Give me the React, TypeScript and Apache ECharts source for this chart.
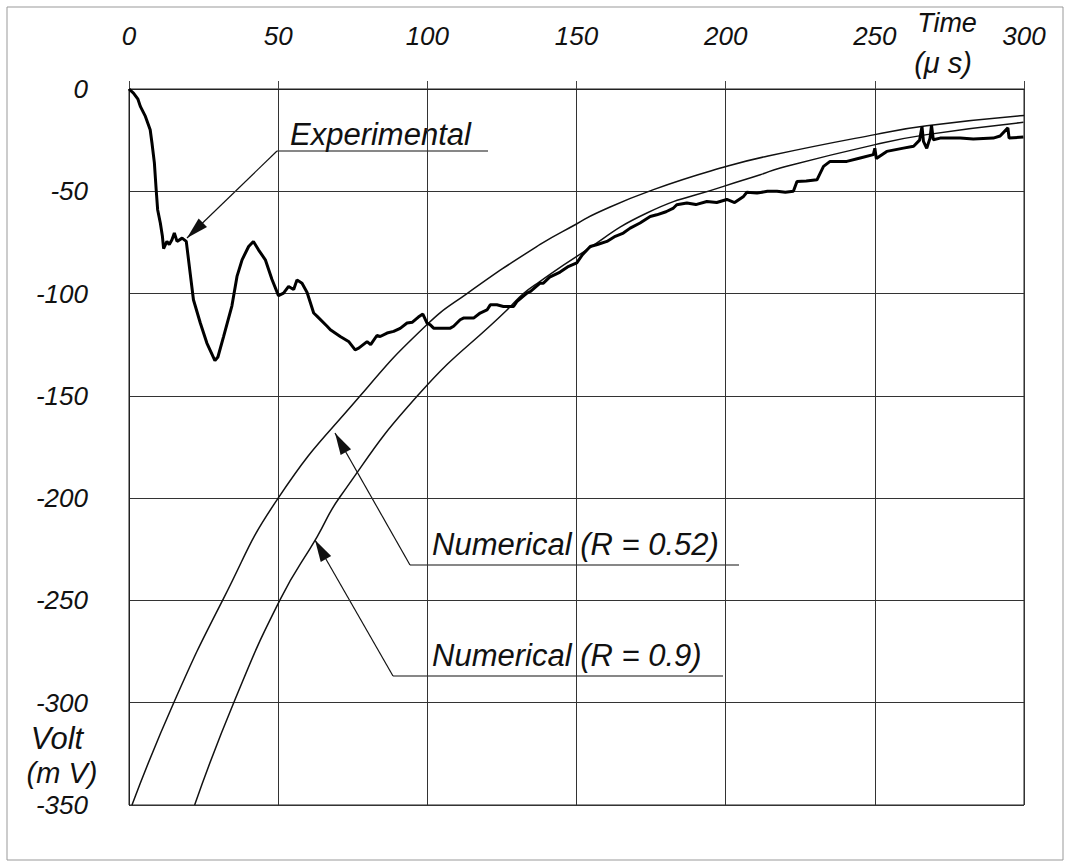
import React, { useEffect, useRef } from "react";
import * as echarts from "echarts";

// ---- axis settings ----
const xTickValues = [0, 50, 100, 150, 200, 250, 300];
const yTickValues = [0, -50, -100, -150, -200, -250, -300, -350];

// ---- Experimental trace (time in µs, voltage in mV) ----
const expTime = [
  0, 1.5, 3, 3.8, 5.5, 7.1, 7.7, 8.5, 9.1, 9.6, 10.5, 11.2, 11.6, 12.7, 13.5, 14.4, 15.2, 16.1, 17.8, 19.2,
  20.5, 21.6, 23.9, 26.1, 28.8, 29.8, 31.7, 34.5, 36.2, 37.9, 40.1, 41.7, 43.4, 45.7, 47.9, 50.1, 51.8, 53.5,
  55.2, 56.3, 58, 59.7, 61.9, 63, 66.4, 67.5, 70.8, 73.6, 75.8, 77, 79.8, 81, 83.1, 84.2, 86.5, 88.7, 90.9,
  93.2, 95, 97, 98.5, 99.9, 101, 102.1, 105, 107.7, 108.8, 111, 112.1, 115.5, 117.7, 120, 121.1, 123.3,
  125.5, 128.9, 130, 133.4, 134.5, 137.8, 138.9, 141, 144.5, 147, 150.1, 152, 154.6, 157, 160.2, 163, 165.7,
  168, 171.3, 174.7, 176.9, 180, 182.5, 183.6, 187, 190, 193.7, 197, 200.4, 203, 206, 207.1, 210.5, 214,
  217.2, 220, 222.7, 223.9, 227, 230.6, 232.8, 235, 240.6, 245.1, 249.5, 250, 250.5, 254, 259.6, 263, 265,
  265.8, 266.3, 267.4, 268.5, 269, 269.6, 271.9, 278.6, 283, 289.7, 292, 294.6, 295, 299.8,
];
const expVolt = [
  0, -2, -5, -8.5, -13.4, -19.9, -26.4, -36, -49, -59, -65.5, -72, -78, -74.5, -76, -73.7, -70.4, -74.5, -72.9,
  -74.5, -90, -103, -114.4, -124.2, -132.8, -131, -121, -106, -91.6, -83.5, -77, -74.5, -78.6, -83.5, -93, -101,
  -99.8, -96.5, -98, -93.3, -95, -99.5, -109.5, -111, -116, -117.7, -121, -123.4, -127.5, -126.7, -123.5, -125,
  -120.5, -121, -119.3, -118.5, -117, -114.4, -114, -111.5, -110, -114.4, -115.3, -116.9, -117, -116.9, -116,
  -112.8, -112, -112, -109.5, -108, -105.5, -105.5, -106.3, -106.3, -103.9, -99.8, -99, -94.9, -94.9, -92,
  -89.5, -87, -85, -81, -77, -76, -74.5, -72, -70.4, -68, -65.5, -62.3, -61.5, -60, -58.2, -56.6, -55.7,
  -56.5, -55, -55.5, -54, -55.5, -52.5, -50.5, -50.9, -50, -50, -50.5, -50, -45.2, -45, -44.4, -37.8, -35.4,
  -35.4, -33.7, -32.1, -29, -34, -30.5, -28.9, -28, -25, -18.3, -25.6, -29, -24, -17.7, -24.8, -24, -24,
  -24.5, -24, -23, -19, -24, -23.5,
];

// ---- Numerical (R = 0.52) ----
const numA_Time = [1, 15, 31.7, 50, 77.5, 99.3, 113.3, 137.8, 150, 156.8, 175.8, 200.4, 215, 250, 267.4, 300];
const numA_Volt = [-350, -300, -249, -200, -150, -116, -100, -76, -66, -60.6, -49.2, -37.8, -32.5, -22.3, -18, -13];

// ---- Numerical (R = 0.9) ----
const numB_Time = [22, 35.1, 50.7, 63, 70.8, 97, 126.7, 132.2, 137.8, 150.1, 173.6, 199.3, 211.6, 218.3, 250.1, 267.4, 299.8];
const numB_Volt = [-350, -300, -249.5, -219, -199.2, -149.5, -108, -100, -94, -81.8, -60.6, -47.6, -41.9, -38.6, -27.2, -22.3, -16.3];

// ---- annotation texts ----
const labelExperimental = "Experimental";
const labelNumA = "Numerical (R = 0.52)";
const labelNumB = "Numerical (R = 0.9)";

const FONT = '"Liberation Sans", Arial, sans-serif';
const INK = "#111";

function zip(t: number[], v: number[]) {
  return t.map((x, i) => [x, v[i]]);
}

function arrowHead(fx: number, fy: number, tx: number, ty: number, len = 22, half = 6) {
  const dx = tx - fx;
  const dy = ty - fy;
  const d = Math.sqrt(dx * dx + dy * dy);
  const ux = dx / d;
  const uy = dy / d;
  const bx = tx - ux * len;
  const by = ty - uy * len;
  const px = -uy;
  const py = ux;
  return {
    type: "polygon",
    shape: {
      points: [
        [tx, ty],
        [bx + px * half, by + py * half],
        [bx - px * half, by - py * half],
      ],
    },
    style: { fill: INK },
    silent: true,
  };
}

function leader(ux1: number, ux2: number, uy: number, tipX: number, tipY: number) {
  return [
    { type: "line", shape: { x1: ux1, y1: uy, x2: ux2, y2: uy }, style: { stroke: INK, lineWidth: 1.2 }, silent: true },
    { type: "line", shape: { x1: ux1, y1: uy, x2: tipX, y2: tipY }, style: { stroke: INK, lineWidth: 1.2 }, silent: true },
    arrowHead(ux1, uy, tipX, tipY),
  ];
}

function txt(text: string, x: number, y: number, size: number, align = "left") {
  return {
    type: "text",
    x,
    y,
    silent: true,
    style: {
      text,
      fill: INK,
      fontSize: size,
      fontFamily: FONT,
      fontStyle: "italic",
      align,
      verticalAlign: "middle",
    },
  };
}

export default function App() {
  const ref = useRef<HTMLDivElement>(null);
  useEffect(() => {
    if (!ref.current) return;
    const chart = echarts.init(ref.current, undefined, { renderer: "svg" });
    const option: any = {
      animation: false,
      backgroundColor: "#fff",
      grid: {
        left: 129,
        top: 89,
        width: 895,
        height: 716,
        show: true,
        borderColor: "#222",
        borderWidth: 1,
        backgroundColor: "transparent",
      },
      xAxis: {
        type: "value",
        position: "top",
        min: xTickValues[0],
        max: xTickValues[xTickValues.length - 1],
        interval: xTickValues[1] - xTickValues[0],
        axisLine: { show: true, lineStyle: { color: "#222", width: 1 } },
        axisTick: { show: true, inside: false, length: 8, lineStyle: { color: "#444" } },
        axisLabel: {
          margin: 40,
          fontSize: 26,
          fontStyle: "italic",
          fontFamily: FONT,
          color: INK,
        },
        splitLine: { show: true, lineStyle: { color: "#333", width: 1 } },
      },
      yAxis: {
        type: "value",
        min: yTickValues[yTickValues.length - 1],
        max: yTickValues[0],
        interval: yTickValues[0] - yTickValues[1],
        axisLine: { show: true, lineStyle: { color: "#222", width: 1 } },
        axisTick: { show: false },
        axisLabel: {
          margin: 41,
          fontSize: 26,
          fontStyle: "italic",
          fontFamily: FONT,
          color: INK,
        },
        splitLine: { show: true, lineStyle: { color: "#333", width: 1 } },
      },
      series: [
        {
          name: "Experimental",
          type: "line",
          data: zip(expTime, expVolt),
          showSymbol: false,
          symbol: "none",
          lineStyle: { color: "#000", width: 3 },
          z: 5,
        },
        {
          name: "Numerical (R = 0.52)",
          type: "line",
          data: zip(numA_Time, numA_Volt),
          showSymbol: false,
          symbol: "none",
          smooth: 0.5,
          lineStyle: { color: INK, width: 1.5 },
          z: 4,
        },
        {
          name: "Numerical (R = 0.9)",
          type: "line",
          data: zip(numB_Time, numB_Volt),
          showSymbol: false,
          symbol: "none",
          smooth: 0.5,
          lineStyle: { color: INK, width: 1.5 },
          z: 4,
        },
      ],
      graphic: [
        {
          type: "rect",
          shape: { x: 7, y: 7, width: 1056, height: 853 },
          style: { fill: "none", stroke: "#999", lineWidth: 1 },
          silent: true,
          z: -10,
        },
        ...leader(277, 488, 151, 187, 238),
        ...leader(410, 739, 565, 335, 433),
        ...leader(393, 723, 676, 315, 540),
        txt(labelExperimental, 290, 134, 31),
        txt(labelNumA, 432, 544, 31),
        txt(labelNumB, 432, 655, 31),
        txt("Time", 947, 23, 27, "center"),
        txt("(μ s)", 943, 63, 29, "center"),
        txt("Volt", 57, 738, 31, "center"),
        txt("(m V)", 62, 773, 29, "center"),
      ],
    };
    chart.setOption(option);
    return () => chart.dispose();
  }, []);
  return (
    <div
      ref={ref}
      style={{ position: "fixed", left: 0, top: 0, width: 1068, height: 867, background: "#fff" }}
    />
  );
}
